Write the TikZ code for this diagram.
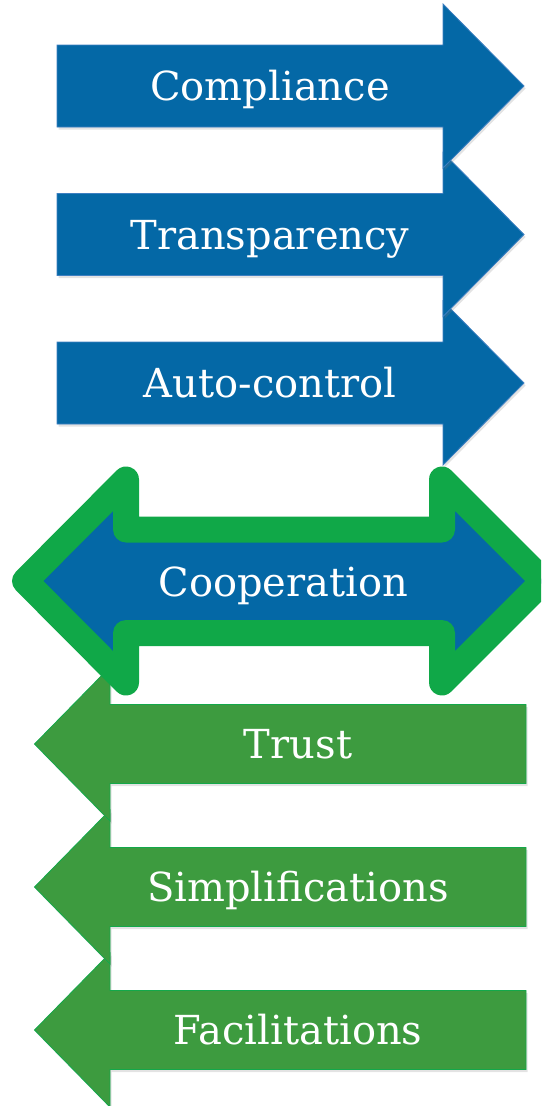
\documentclass[tikz,border=0pt]{standalone}
\usepackage{fontspec}
\setmainfont{DejaVu Serif}
\usetikzlibrary{shadows}
\definecolor{arrblue}{HTML}{0468A6}
\definecolor{arrblueedge}{HTML}{3D7FC1}
\definecolor{arrgreen}{HTML}{3D9B3F}
\definecolor{arrgreenedge}{HTML}{13A84A}
\definecolor{ringgreen}{HTML}{10A848}
\begin{document}
\begin{tikzpicture}[x=1pt,y=-1pt,
  bluearr/.style={fill=arrblue,draw=arrblueedge,line width=0.8pt,line join=miter,
    drop shadow={opacity=0.22,shadow xshift=1.5pt,shadow yshift=-2.5pt}},
  greenarr/.style={fill=arrgreen,draw=arrgreenedge,line width=0.8pt,line join=miter,
    drop shadow={opacity=0.22,shadow xshift=1.5pt,shadow yshift=-2.5pt}},
  ringarr/.style={fill=arrblue,draw=ringgreen,line width=26pt,line join=round,
    drop shadow={opacity=0.18,shadow xshift=1.5pt,shadow yshift=-2.5pt}},
  lbl/.style={text=white,anchor=base,inner sep=0pt,font=\fontsize{40}{48}\selectfont}]
\useasboundingbox (0,0) rectangle (541,1106);
\clip (0,0) rectangle (541,1106);
% left-pointing green arrows (bottom first so upper ones lie on top)
\foreach \c/\t/\n in {1030/Facilitations/g3, 887/Simplifications/g2, 744/Trust/g1}{
  \draw[greenarr] (34.5,\c) -- (110,\c-77) -- (110,\c-39.5) -- (526,\c-39.5)
     -- (526,\c+39.5) -- (110,\c+39.5) -- (110,\c+77) -- cycle;
  \node[lbl] (\n) at (298,\c+14.5) {\t};
}
% double arrow
\draw[ringarr] (25,581) -- (126,479.5) -- (126,529.5) -- (442,529.5) -- (442,479.5)
   -- (543.5,581) -- (442,682.5) -- (442,633) -- (126,633) -- (126,682.5) -- cycle;
\node[lbl] (coop) at (283.5,581+15) {Cooperation};
% right-pointing blue arrows (bottom first)
\foreach \c/\t/\n in {383/Auto-control/b3, 234.5/Transparency/b2, 86/Compliance/b1}{
  \draw[bluearr] (57,\c-41) -- (443,\c-41) -- (443,\c-82) -- (524,\c)
     -- (443,\c+82) -- (443,\c+41) -- (57,\c+41) -- cycle;
  \node[lbl] (\n) at (270,\c+14.5) {\t};
}
\end{tikzpicture}
\end{document}
